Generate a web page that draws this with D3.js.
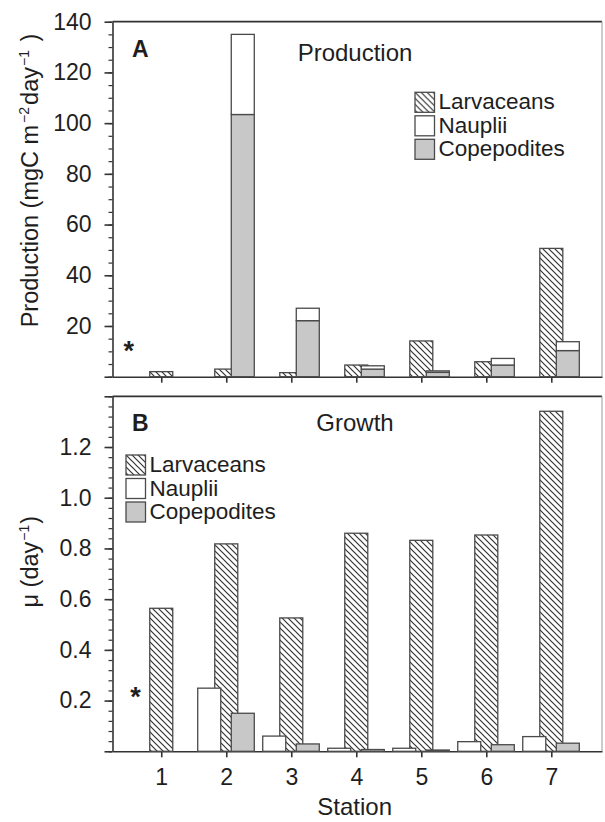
<!DOCTYPE html>
<html>
<head>
<meta charset="utf-8">
<script src="https://cdn.jsdelivr.net/npm/d3@7"></script>
<style>
  body { margin: 0; background: #fff; }
  svg text { font-family: "Liberation Sans", Arial, Helvetica, sans-serif; fill: #1e1e1e; }
  .axis path, .axis line { stroke: #333; stroke-width: 1.6; }
  .minor line { stroke: #333; stroke-width: 1.2; }
</style>
</head>
<body>
<svg id="chart" width="605" height="822"></svg>
<script>
// stations on the x axis
var stations = [1, 2, 3, 4, 5, 6, 7];
var seriesNames = ["Larvaceans", "Nauplii", "Copepodites"];

// A: production (mgC m-2 day-1), null = not measured (*)
var prodLarv = [2.0, 3.0, 1.6, 4.6, 14.1, 5.9, 50.6];
var prodCop  = [null, 103.4, 22.1, 3.0, 1.7, 4.6, 10.3];
var prodNaup = [null, 31.6, 4.9, 1.3, 0.6, 2.6, 3.5];

// B: growth rate (day-1)
var growLarv = [0.564, 0.818, 0.526, 0.860, 0.832, 0.853, 1.341];
var growNaup = [null, 0.249, 0.060, 0.012, 0.012, 0.038, 0.058];
var growCop  = [null, 0.150, 0.029, 0.007, 0.005, 0.026, 0.032];

var prodTicks = [0, 20, 40, 60, 80, 100, 120, 140];
var prodLabels = ["", "20", "40", "60", "80", "100", "120", "140"];
var growTicks = [0, 0.2, 0.4, 0.6, 0.8, 1.0, 1.2, 1.4];
var growLabels = ["", "0.2", "0.4", "0.6", "0.8", "1.0", "1.2", ""];

var svg = d3.select("#chart");
var left = 112.5, right = 602;

var x = d3.scaleLinear().domain([0.25, 7.78]).range([left, right]);
var barW = 0.354;      // in station units
var sideOff = 0.254;   // offset of nauplii / copepodite bars

var yA = d3.scaleLinear().domain([0, 140]).range([376.7, 21.7]);
var yB = d3.scaleLinear().domain([0, 1.4]).range([751.3, 396.3]);

// hatch pattern for larvaceans
var defs = svg.append("defs");
var pat = defs.append("pattern").attr("id", "hatch")
  .attr("patternUnits", "userSpaceOnUse").attr("width", 6).attr("height", 6);
pat.append("rect").attr("width", 6).attr("height", 6).attr("fill", "#fff");
pat.append("path").attr("d", "M0,0L6,6M-1,5L1,7M5,-1L7,1")
  .attr("stroke", "#333").attr("stroke-width", 1.2);

var fills = { Larvaceans: "url(#hatch)", Nauplii: "#fff", Copepodites: "#c8c8c8" };

function bar(g, xc, y, v0, v1, fill) {
  g.append("rect")
    .attr("x", x(xc - barW / 2))
    .attr("width", x(xc + barW / 2) - x(xc - barW / 2))
    .attr("y", y(v1))
    .attr("height", y(v0) - y(v1))
    .attr("fill", fill)
    .attr("stroke", "#4a4a4a")
    .attr("stroke-width", 1.3);
}

function frame(y, ticks, labels, minorStep, minorCount, withLabels) {
  var g = svg.append("g");
  var top = y.range()[1], bottom = y.range()[0];
  // top and right frame lines
  g.append("line").attr("x1", left).attr("x2", right).attr("y1", top).attr("y2", top)
    .attr("stroke", "#333").attr("stroke-width", 1.8);
  g.append("line").attr("x1", right).attr("x2", right).attr("y1", top).attr("y2", bottom)
    .attr("stroke", "#999").attr("stroke-width", 1);

  var minor = d3.range(0, minorCount + 1).map(function(i) { return i * minorStep; });
  g.append("g").attr("class", "minor").attr("transform", "translate(" + left + ",0)")
    .call(d3.axisLeft(y).tickValues(minor).tickSize(4).tickSizeOuter(0).tickFormat(""))
    .select(".domain").remove();

  var ay = g.append("g").attr("class", "axis").attr("transform", "translate(" + left + ",0)")
    .call(d3.axisLeft(y).tickValues(ticks).tickSize(8).tickSizeOuter(0).tickPadding(13)
      .tickFormat(function(d, i) { return labels[i]; }));
  ay.selectAll("text").style("font-size", "23px");

  var ax = g.append("g").attr("class", "axis").attr("transform", "translate(0," + bottom + ")")
    .call(d3.axisBottom(x).tickValues(stations).tickSize(6).tickSizeOuter(0).tickPadding(11)
      .tickFormat(withLabels ? d3.format("d") : ""));
  ax.selectAll("text").style("font-size", "23px");
  return g;
}

function legend(x0, y0) {
  var lg = svg.append("g").attr("transform", "translate(" + x0 + "," + y0 + ")");
  seriesNames.forEach(function(name, i) {
    lg.append("rect").attr("x", 0).attr("y", i * 23.5).attr("width", 19.5).attr("height", 20)
      .attr("fill", fills[name]).attr("stroke", "#4a4a4a").attr("stroke-width", 1.3);
    lg.append("text").attr("x", 23.5).attr("y", i * 23.5 + 17)
      .style("font-size", "22.5px").text(name);
  });
}

function text(x0, y0, t, size, anchor, weight) {
  return svg.append("text").attr("x", x0).attr("y", y0)
    .attr("text-anchor", anchor || "start")
    .style("font-size", size + "px").style("font-weight", weight || "normal")
    .text(t);
}

// ---- panel A ----
frame(yA, prodTicks, prodLabels, 5, 28, false);
var barsA = svg.append("g");
stations.forEach(function(s, i) {
  bar(barsA, s, yA, 0, prodLarv[i], fills.Larvaceans);
  if (prodCop[i] != null) {
    bar(barsA, s + sideOff, yA, 0, prodCop[i], fills.Copepodites);
    bar(barsA, s + sideOff, yA, prodCop[i], prodCop[i] + prodNaup[i], fills.Nauplii);
  }
});
legend(415, 92.3);
text(132, 57, "A", 23, "start", "bold");
text(355, 60.7, "Production", 24, "middle");
text(128.7, 360, "*", 27, "middle", "bold");

var tA = svg.append("text").attr("transform", "translate(37.5,180.5) rotate(-90)")
  .attr("text-anchor", "middle").style("font-size", "23.5px");
tA.append("tspan").text("Production (mgC m");
tA.append("tspan").attr("dx", 2).attr("dy", -9).style("font-size", "14px").text("\u22122");
tA.append("tspan").attr("dx", 2).attr("dy", 9).text("day");
tA.append("tspan").attr("dx", 1).attr("dy", -9).style("font-size", "14px").text("\u22121");
tA.append("tspan").attr("dx", 2).attr("dy", 9).text(" )");

// ---- panel B ----
frame(yB, growTicks, growLabels, 0.04, 35, true);
var barsB = svg.append("g");
stations.forEach(function(s, i) {
  bar(barsB, s, yB, 0, growLarv[i], fills.Larvaceans);
  if (growNaup[i] != null) bar(barsB, s - sideOff - 0.008, yB, 0, growNaup[i], fills.Nauplii);
  if (growCop[i] != null) bar(barsB, s + sideOff, yB, 0, growCop[i], fills.Copepodites);
});
legend(126, 455);
text(132, 431, "B", 23, "start", "bold");
text(355, 430.7, "Growth", 24, "middle");
text(135.5, 705.5, "*", 27, "middle", "bold");

var tB = svg.append("text").attr("transform", "translate(38,561.7) rotate(-90)")
  .attr("text-anchor", "middle").style("font-size", "23.5px");
tB.append("tspan").text("\u03bc (day");
tB.append("tspan").attr("dx", 1).attr("dy", -9).style("font-size", "14px").text("\u22121");
tB.append("tspan").attr("dx", 1).attr("dy", 9).text(")");

text(354.7, 815, "Station", 24, "middle");
</script>
</body>
</html>
